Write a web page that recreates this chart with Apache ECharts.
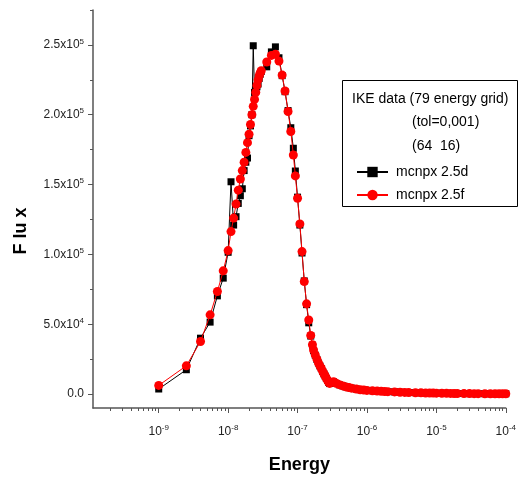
<!DOCTYPE html>
<html><head><meta charset="utf-8">
<script src="https://cdn.jsdelivr.net/npm/echarts@6/dist/echarts.min.js"></script>
<style>html,body{margin:0;padding:0;background:#fff}#c{width:519px;height:480px}</style>
</head><body><div id="c"></div>
<script>
// Energy grid (shared by both series)
const energy = [
  1e-9, 2.5e-9, 4e-9, 5.5e-9, 7e-9, 8.5e-9,
  1.0e-8, 1.1e-8, 1.2e-8, 1.3e-8, 1.4e-8, 1.5e-8, 1.6e-8, 1.7e-8, 1.8e-8, 1.9e-8,
  2.0e-8, 2.1e-8, 2.2e-8, 2.3e-8, 2.4e-8, 2.5e-8, 2.6e-8, 2.7e-8, 2.8e-8, 2.9e-8, 3.0e-8,
  3.6e-8, 4.2e-8, 4.8e-8, 5.4e-8, 6.0e-8, 6.6e-8, 7.3e-8, 8.0e-8, 8.7e-8, 9.3e-8,
  1.0e-7, 1.08e-7, 1.16e-7, 1.25e-7, 1.35e-7, 1.45e-7, 1.55e-7, 1.64e-7,
  1.7e-7, 1.8e-7, 1.9e-7, 2.0e-7, 2.1e-7, 2.2e-7, 2.3e-7, 2.4e-7, 2.5e-7, 2.6e-7, 2.7e-7, 2.8e-7, 2.9e-7,
  3.3e-7, 3.6e-7, 4.0e-7, 4.5e-7, 5.0e-7, 5.5e-7, 6.0e-7, 7.0e-7, 8.0e-7, 9.0e-7,
  1.0e-6, 1.2e-6, 1.4e-6, 1.6e-6, 1.8e-6, 2.0e-6, 2.5e-6, 3.0e-6, 3.5e-6, 4.0e-6, 5.0e-6, 6.0e-6, 7.0e-6, 8.0e-6, 9.0e-6,
  1.0e-5, 1.2e-5, 1.4e-5, 1.6e-5, 1.8e-5, 2.0e-5, 2.5e-5, 3.0e-5, 3.5e-5, 4.0e-5, 5.0e-5, 6.0e-5, 7.0e-5, 8.0e-5, 9.0e-5,
  1.0e-4
];
// mcnpx 2.5d (black squares)
const fluxD = [
  3600, 17400, 40000, 51500, 70300, 83000,
  101500, 152000, 121000, 127000, 136500, 142000, 147000, 160000, 166000, 169000,
  185000, 192000, 200000, 249400, 216000, 217500, 220000, 222000, 226000, 229000, 231000,
  234300, 245000, 248600, 240800, 228000, 216500, 203000, 190700, 176000, 159700,
  141000, 121000, 101000, 81000, 64000, 51000, 41500, 35000,
  31000, 27800, 24800, 22200, 20100, 18200, 16200, 14400, 12800, 11200, 9700, 8400, 7500,
  8700, 7600, 6600, 5800, 5100, 4600, 4200, 3600, 3100, 2800,
  2600, 2300, 2100, 1950, 1800, 1700, 1500, 1300, 1150, 1050, 950, 850, 780, 720, 660,
  620, 540, 480, 430, 400, 370, 330, 300, 280, 260, 240, 225, 215, 205, 200,
  195
];
// mcnpx 2.5f (red circles)
const fluxF = [
  6200, 20200, 37600, 56700, 73400, 88200,
  102700, 116300, 126000, 136000, 146000, 154000, 160000, 166000, 173000, 180000,
  186000, 193000, 200000, 206000, 211000, 216000, 221000, 225000, 228000, 230000, 231500,
  237800, 242500, 243300, 238400, 228400, 217000, 202300, 188000, 171200, 156200,
  140200, 121800, 102000, 80500, 64600, 53000, 42000, 35300,
  31500, 28000, 25000, 22300, 20200, 18300, 16300, 14500, 12900, 11300, 9800, 8500, 7600,
  8800, 7700, 6700, 5800, 5100, 4600, 4200, 3600, 3100, 2800,
  2600, 2300, 2100, 1950, 1800, 1700, 1500, 1300, 1150, 1050, 950, 850, 780, 720, 660,
  620, 540, 480, 430, 400, 370, 330, 300, 280, 260, 240, 225, 215, 205, 200,
  195
];
// Tick labels
const xMajorTicks = [1e-9, 1e-8, 1e-7, 1e-6, 1e-5, 1e-4];
const xLabelExp = ['-9', '-8', '-7', '-6', '-5', '-4'];
const yMajorTicks = [0, 50000, 100000, 150000, 200000, 250000];
const yLabelMant = ['0.0', '5.0', '1.0', '1.5', '2.0', '2.5'];
const yLabelExp = ['', '4', '5', '5', '5', '5'];
const yMinorTicks = [25000, 75000, 125000, 175000, 225000, 275000];
const seriesNames = ['mcnpx 2.5d', 'mcnpx 2.5f'];
const legendHeader = ['IKE data (79 energy grid)', '(tol=0,001)', '(64  16)'];

const xMinorTicks = [];
[1e-10, 1e-9, 1e-8, 1e-7, 1e-6, 1e-5].forEach(d => {
  for (let k = 2; k <= 9; k++) xMinorTicks.push(+(k * d).toPrecision(3));
});

const FONT = 'Liberation Sans, Arial, sans-serif';
const xMin = 1.13e-10, xMax = 1e-4, yMin = -10000, yMax = 275000;
const axisColor = '#555';

const chart = echarts.init(document.getElementById('c'), null, {renderer: 'canvas'});
const supRich = {
  m: {fontSize: 12, fontFamily: FONT, color: '#222'},
  s: {fontSize: 8, fontFamily: FONT, color: '#222', padding: [0, 0, 7, 0]}
};
chart.setOption({
  animation: false,
  backgroundColor: '#fff',
  grid: {left: 93, top: 10, width: 416, height: 398, containLabel: false},
  xAxis: [{
    type: 'log', logBase: 10, min: xMin, max: xMax, position: 'bottom',
    name: 'Energy', nameLocation: 'middle', nameGap: 48,
    nameTextStyle: {fontFamily: FONT, fontSize: 18, fontWeight: 'bold', color: '#000'},
    axisLine: {show: true, onZero: false, lineStyle: {color: axisColor, width: 1.5}},
    axisTick: {show: true, inside: false, length: 5, customValues: xMajorTicks, lineStyle: {color: axisColor}},
    axisLabel: {
      customValues: xMajorTicks, margin: 16,
      formatter: v => {
        const i = xMajorTicks.findIndex(t => Math.abs(Math.log10(t) - Math.log10(v)) < 1e-6);
        return '{m|10}{s|' + xLabelExp[i] + '}';
      },
      rich: supRich
    },
    splitLine: {show: false}
  }, {
    type: 'log', logBase: 10, min: xMin, max: xMax, position: 'bottom', gridIndex: 0,
    axisLine: {show: false, onZero: false},
    axisTick: {show: true, length: 3, customValues: xMinorTicks, lineStyle: {color: axisColor}},
    axisLabel: {show: false},
    splitLine: {show: false}
  }],
  yAxis: [{
    type: 'value', min: yMin, max: yMax, position: 'left',
    axisLine: {show: true, onZero: false, lineStyle: {color: axisColor, width: 1.5}},
    axisTick: {show: true, length: 5, customValues: yMajorTicks, lineStyle: {color: axisColor}},
    axisLabel: {
      customValues: yMajorTicks, margin: 9,
      formatter: v => {
        const i = yMajorTicks.indexOf(v);
        return yLabelExp[i] ? '{m|' + yLabelMant[i] + 'x10}{s|' + yLabelExp[i] + '}' : '{m|' + yLabelMant[i] + '}';
      },
      rich: supRich
    },
    splitLine: {show: false}
  }, {
    type: 'value', min: yMin, max: yMax, position: 'left', gridIndex: 0,
    axisLine: {show: false, onZero: false},
    axisTick: {show: true, length: 3, customValues: yMinorTicks, lineStyle: {color: axisColor}},
    axisLabel: {show: false},
    splitLine: {show: false}
  }],
  legend: {
    orient: 'vertical', left: 351, top: 160, itemWidth: 31, itemHeight: 13, itemGap: 9, z: 5,
    data: seriesNames,
    textStyle: {fontFamily: FONT, fontSize: 14, color: '#000', padding: [0, 0, 0, 3]}
  },
  graphic: [
    {type: 'rect', z: 1, shape: {x: 342.5, y: 80.5, width: 175, height: 126}, style: {fill: '#fff', stroke: '#000', lineWidth: 1}},
    {type: 'text', z: 2, x: 352, y: 99, style: {text: legendHeader[0], font: '14px ' + FONT, fill: '#000', textAlign: 'left', textVerticalAlign: 'middle'}},
    {type: 'text', z: 2, x: 412, y: 122, style: {text: legendHeader[1], font: '14px ' + FONT, fill: '#000', textAlign: 'left', textVerticalAlign: 'middle'}},
    {type: 'text', z: 2, x: 412, y: 146, style: {text: legendHeader[2], font: '14px ' + FONT, fill: '#000', textAlign: 'left', textVerticalAlign: 'middle'}},
    {type: 'text', z: 2, x: 21, y: 231, rotation: Math.PI / 2, style: {text: 'F lu x', font: 'bold 18px ' + FONT, fill: '#000', textAlign: 'center', textVerticalAlign: 'middle'}}
  ],
  series: [{
    name: seriesNames[0], type: 'line', xAxisIndex: 0, yAxisIndex: 0,
    data: energy.map((e, i) => [e, fluxD[i]]),
    symbol: 'rect', symbolSize: 7, showAllSymbol: true,
    itemStyle: {color: '#000'}, lineStyle: {color: '#000', width: 1}, z: 2
  }, {
    name: seriesNames[1], type: 'line', xAxisIndex: 0, yAxisIndex: 0,
    data: energy.map((e, i) => [e, fluxF[i]]),
    symbol: 'circle', symbolSize: 9, showAllSymbol: true,
    itemStyle: {color: '#ff0000'}, lineStyle: {color: '#ff0000', width: 1}, z: 3
  }]
});
</script>
</body></html>
